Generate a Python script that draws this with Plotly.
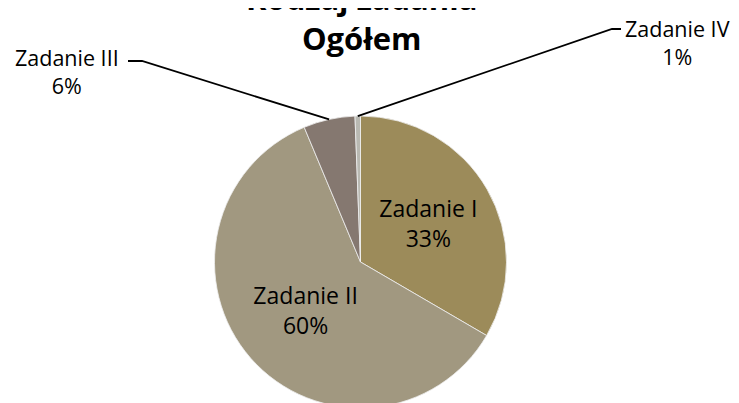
import math
import plotly.graph_objects as go

# dane wykresu
labels = ["Zadanie I", "Zadanie II", "Zadanie III", "Zadanie IV"]
values = [33.4, 60.3, 5.7, 0.6]
colors = ["#9C8B5A", "#A19880", "#857870", "#B9B9B2"]
title_text = "Rodzaj zadania<br>Ogółem"

W, H = 739, 403
OFF = 8  # margines strony (body) przesuwa wykres o 8 px
cx, cy, r = 360.5 - OFF, 262 - OFF, 146  # środek i promień koła w pikselach

# etykiety zewnętrzne: pozycja tekstu i kolanko linii (piksele ekranu)
outside = {
    "Zadanie III": dict(tx=67, ty=72, ex=142, ey=61, kx=128),
    "Zadanie IV": dict(tx=677, ty=42, ex=612, ey=29, kx=621),
}

total = sum(values)
texts = [
    "" if lab in outside else f"{lab}<br>{round(v / total * 100)}%"
    for lab, v in zip(labels, values)
]

fig = go.Figure()
fig.add_trace(go.Pie(
    labels=labels,
    values=values,
    sort=False,
    direction="clockwise",
    rotation=0,
    marker=dict(colors=colors, line=dict(color="#EFEFEF", width=0.8)),
    text=texts,
    textinfo="text",
    textposition="inside",
    insidetextorientation="horizontal",
    textfont=dict(family="Open Sans", size=23, color="black"),
    domain=dict(x=[(cx - r) / W, (cx + r) / W], y=[(H - cy - r) / H, (H - cy + r) / H]),
    hoverinfo="label+percent",
))

px = lambda x: (x - OFF) / W
py = lambda y: 1 - (y - OFF) / H

# linie odniesienia i etykiety dla małych wycinków
cum = 0
for lab, v in zip(labels, values):
    mid = (cum + v / 2) / total * 2 * math.pi
    cum += v
    if lab not in outside:
        continue
    o = outside[lab]
    x_edge = cx + OFF + r * math.sin(mid)
    y_edge = cy + OFF - r * math.cos(mid)
    fig.add_shape(
        type="path",
        path=f"M {px(o['kx'])},{py(o['ey'])} L {px(o['ex'])},{py(o['ey'])} L {px(x_edge)},{py(y_edge)}",
        xref="paper", yref="paper",
        line=dict(color="black", width=1.8),
    )
    fig.add_annotation(
        x=px(o["tx"]), y=py(o["ty"]), xref="paper", yref="paper",
        text=f"{lab}<br>{round(v / total * 100)}%",
        showarrow=False, xanchor="center", yanchor="middle",
        font=dict(family="Open Sans", size=21.5, color="black"),
    )

fig.add_annotation(
    x=px(361), y=py(61), xref="paper", yref="paper",
    text=f"<b>{title_text}</b>",
    showarrow=False, xanchor="center", yanchor="bottom",
    font=dict(family="Open Sans", size=31, color="black"),
)

fig.update_layout(
    width=W,
    height=H,
    margin=dict(l=0, r=0, t=0, b=0),
    paper_bgcolor="white",
    plot_bgcolor="white",
    showlegend=False,
)

fig.write_html("out.html")
